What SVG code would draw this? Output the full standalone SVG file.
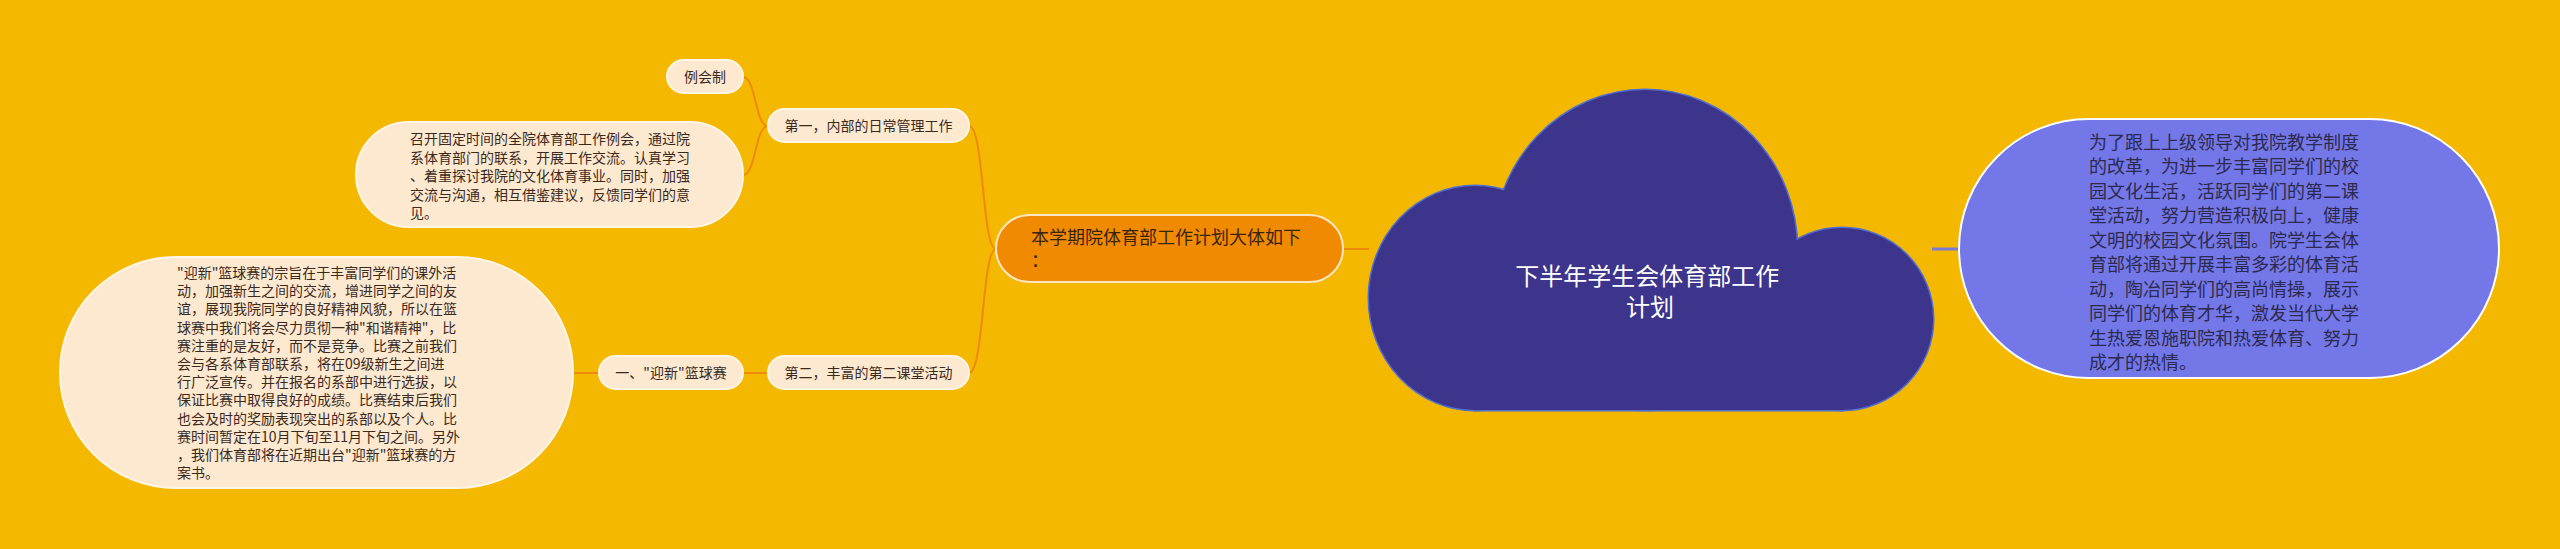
<svg xmlns="http://www.w3.org/2000/svg" width="2560" height="549" viewBox="0 0 2560 549">
<style>
  .bg { fill: #f5b800; }
  .lite { fill: #fde8d0; stroke: #fff5e4; stroke-width: 2; }
  .t { font-family: "Noto Sans CJK SC", "Noto Sans", sans-serif; fill: #3b2a1c; }
  .t14 { font-size: 14px; }
  .conn { fill: none; stroke: #ee8a0c; stroke-width: 2; }
  .connp { fill: none; stroke: #7b78d8; stroke-width: 3; }
</style>
<rect class="bg" x="0" y="0" width="2560" height="549"/>

<g id="connectors">
  <path class="conn" d="M 1343 249 L 1369 249"/>
  <path class="conn" d="M 996 249 C 982 249, 984 126, 969 126"/>
  <path class="conn" d="M 996 249 C 982 249, 984 373, 969 373"/>
  <path class="conn" d="M 768 126 C 755 126, 756 77, 743 77"/>
  <path class="conn" d="M 768 126 C 755 126, 756 175, 743 175"/>
  <path class="conn" d="M 768 373 L 743 373"/>
  <path class="conn" d="M 599 373 L 573 373"/>
  <path class="connp" d="M 1932 249 L 1959 249"/>
</g>

<g id="root">
  <g fill="#3d348b" stroke="#4f6fd3" stroke-width="3">
    <ellipse cx="1645" cy="250" rx="152" ry="160"/>
    <ellipse cx="1475" cy="298" rx="106" ry="112"/>
    <ellipse cx="1842" cy="319" rx="91" ry="91"/>
    <rect x="1475" y="300" width="367" height="110"/>
  </g>
  <g fill="#3d348b">
    <ellipse cx="1645" cy="250" rx="152" ry="160"/>
    <ellipse cx="1475" cy="298" rx="106" ry="112"/>
    <ellipse cx="1842" cy="319" rx="91" ry="91"/>
    <rect x="1475" y="300" width="367" height="110"/>
  </g>
  <text class="t" style="fill:#ffffff" font-size="24" text-anchor="middle">
    <tspan x="1650" y="285">下半年学生会体育部工作</tspan>
    <tspan x="1650" y="316">计划</tspan>
  </text>
</g>

<g id="intro">
  <rect x="1959" y="119" width="540" height="259" rx="129.5" fill="#7377e8" stroke="#ffffff" stroke-width="2"/>
  <text class="t" style="fill:#2c2a4e" font-size="18">
    <tspan x="2089" y="148.5">为了跟上上级领导对我院教学制度</tspan>
    <tspan x="2089" y="173">的改革，为进一步丰富同学们的校</tspan>
    <tspan x="2089" y="197.5">园文化生活，活跃同学们的第二课</tspan>
    <tspan x="2089" y="222">堂活动，努力营造积极向上，健康</tspan>
    <tspan x="2089" y="246.5">文明的校园文化氛围。院学生会体</tspan>
    <tspan x="2089" y="271">育部将通过开展丰富多彩的体育活</tspan>
    <tspan x="2089" y="295.5">动，陶冶同学们的高尚情操，展示</tspan>
    <tspan x="2089" y="320">同学们的体育才华，激发当代大学</tspan>
    <tspan x="2089" y="344.5">生热爱恩施职院和热爱体育、努力</tspan>
    <tspan x="2089" y="369">成才的热情。</tspan>
  </text>
</g>

<g id="plan">
  <rect x="996" y="215" width="347" height="67" rx="33.5" fill="#f08a00" stroke="#fde6c4" stroke-width="2"/>
  <text class="t" style="fill:#3a2410" font-size="18">
    <tspan x="1031" y="244">本学期院体育部工作计划大体如下</tspan>
    <tspan x="1031" y="267">：</tspan>
  </text>
</g>

<g id="first">
  <rect class="lite" x="768" y="109" width="201" height="33" rx="16.5"/>
  <text class="t t14" x="868.5" y="130.5" text-anchor="middle">第一，内部的日常管理工作</text>
</g>

<g id="meeting">
  <rect class="lite" x="667" y="60" width="76" height="33" rx="16.5"/>
  <text class="t t14" x="705" y="81.5" text-anchor="middle">例会制</text>
</g>

<g id="meeting-detail">
  <rect class="lite" x="356" y="122" width="387" height="105" rx="52.5"/>
  <text class="t t14">
    <tspan x="410" y="144">召开固定时间的全院体育部工作例会，通过院</tspan>
    <tspan x="410" y="162.6">系体育部门的联系，开展工作交流。认真学习</tspan>
    <tspan x="410" y="181.2">、着重探讨我院的文化体育事业。同时，加强</tspan>
    <tspan x="410" y="199.8">交流与沟通，相互借鉴建议，反馈同学们的意</tspan>
    <tspan x="410" y="218.4">见。</tspan>
  </text>
</g>

<g id="second">
  <rect class="lite" x="768" y="356" width="201" height="33" rx="16.5"/>
  <text class="t t14" x="868.5" y="377.5" text-anchor="middle">第二，丰富的第二课堂活动</text>
</g>

<g id="basketball">
  <rect class="lite" x="599" y="356" width="144" height="33" rx="16.5"/>
  <text class="t t14" x="671" y="377.5" text-anchor="middle">一、"迎新"篮球赛</text>
</g>

<g id="basketball-detail">
  <rect class="lite" x="60" y="257" width="513" height="231" rx="115.5"/>
  <text class="t t14">
    <tspan x="177" y="278">"迎新"篮球赛的宗旨在于丰富同学们的课外活</tspan>
    <tspan x="177" y="296.2">动，加强新生之间的交流，增进同学之间的友</tspan>
    <tspan x="177" y="314.4">谊，展现我院同学的良好精神风貌，所以在篮</tspan>
    <tspan x="177" y="332.6">球赛中我们将会尽力贯彻一种"和谐精神"，比</tspan>
    <tspan x="177" y="350.8">赛注重的是友好，而不是竞争。比赛之前我们</tspan>
    <tspan x="177" y="369">会与各系体育部联系，将在09级新生之间进</tspan>
    <tspan x="177" y="387.2">行广泛宣传。并在报名的系部中进行选拔，以</tspan>
    <tspan x="177" y="405.4">保证比赛中取得良好的成绩。比赛结束后我们</tspan>
    <tspan x="177" y="423.6">也会及时的奖励表现突出的系部以及个人。比</tspan>
    <tspan x="177" y="441.8">赛时间暂定在10月下旬至11月下旬之间。另外</tspan>
    <tspan x="177" y="460">，我们体育部将在近期出台"迎新"篮球赛的方</tspan>
    <tspan x="177" y="478.2">案书。</tspan>
  </text>
</g>
</svg>
